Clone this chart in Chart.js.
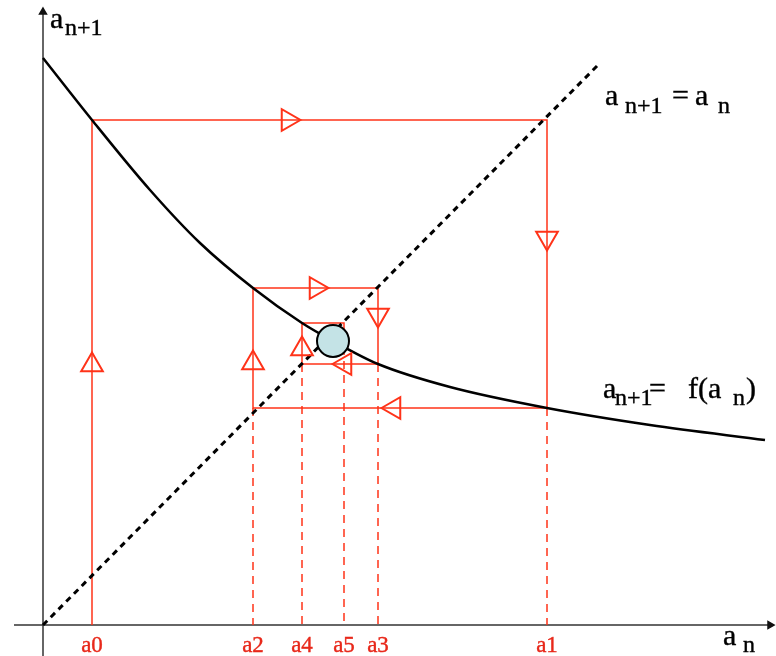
<!DOCTYPE html>
<html>
<head>
<meta charset="utf-8">
<script src="https://cdn.jsdelivr.net/npm/chart.js@4.4.1/dist/chart.umd.min.js"></script>
<style>
	body { margin: 0; background: #fff; }
</style>
</head>
<body>
<canvas id="cobwebChart" width="776" height="656"></canvas>
<script>
// iterates a0..a5 and the values f(a_n) they are sent to
const iterNames = ["a0", "a1", "a2", "a3", "a4", "a5"]
const iterValues = [0.49, 5.04, 2.10, 3.35, 2.59, 3.01]
const mappedValues = [5.05, 2.17, 3.37, 2.61, 3.02, 2.78]

// a_{n+1} = f(a_n)
const curveX = [0, 0.49, 1.07, 1.57, 2.10, 2.59, 2.90, 3.35, 4.07, 5.04, 6.07, 7.22]
const curveY = [5.67, 5.05, 4.35, 3.82, 3.37, 3.02, 2.84, 2.61, 2.38, 2.17, 2.00, 1.85]

// a_{n+1} = a_n
const diagX = [0, 5.57]
const diagY = [0, 5.62]

// fixed point where both lines meet
const fixedX = [2.90]
const fixedY = [2.84]

// arrow heads along the cobweb (heading in degrees, 0 = up)
const markerX = [0.49, 2.45, 5.04, 3.51, 2.10, 2.73, 3.35, 3.02, 2.59]
const markerY = [2.60, 5.05, 3.87, 2.17, 2.62, 3.37, 3.10, 2.61, 2.76]
const markerAngle = [0, 90, 180, 270, 0, 90, 180, 270, 0]

const red = "#ff3319"
const textRed = "#e8281a"
const serif = '"Liberation Serif", "DejaVu Serif", serif'

const zip = (xs, ys) => xs.map((x, i) => ({ x: x, y: ys[i] }))

// staircase: up from a0, then across to the diagonal and back to the curve
const cobweb = [{ x: iterValues[0], y: 0 }]
for (let i = 0; i < iterValues.length; i++) {
	cobweb.push({ x: iterValues[i], y: mappedValues[i] })
	if (i + 1 < iterValues.length) {
		cobweb.push({ x: iterValues[i + 1], y: mappedValues[i] })
	}
}

// dashed drop lines from each later iterate down to the axis
const drops = []
for (let i = 1; i < iterValues.length; i++) {
	const low = Math.min(mappedValues[i - 1], mappedValues[i])
	drops.push({ x: iterValues[i], y: low })
	drops.push({ x: iterValues[i], y: 0 })
	drops.push({ x: iterValues[i], y: null })
}

// text drawn in data coordinates: [x, y, text, size]
const captions = [
	[[0.07, 5.97, "a", 30], [0.22, 5.90, "n+1", 24]],
	[[6.80, -0.20, "a", 30], [7.00, -0.27, "n", 24]],
	[[5.62, 5.20, "a", 30], [5.82, 5.12, "n+1", 24], [6.29, 5.20, "=", 30], [6.52, 5.20, "a", 30], [6.75, 5.12, "n", 24]],
	[[5.60, 2.27, "a", 30], [5.72, 2.20, "n+1", 24], [6.06, 2.27, "=", 30], [6.45, 2.27, "f(a", 30], [6.90, 2.20, "n", 24], [7.03, 2.27, ")", 30]],
]

const drawText = (ctx, text, x, y) => {
	ctx.fillText(text, x, y)
	ctx.strokeText(text, x, y)
}

const textPlugin = {
	id: "cobwebText",
	afterDatasetsDraw(chart) {
		const ctx = chart.ctx
		const xs = chart.scales.x
		const ys = chart.scales.y
		ctx.save()
		ctx.textBaseline = "alphabetic"
		ctx.lineWidth = 0.4

		// iterate names under the horizontal axis
		ctx.fillStyle = textRed
		ctx.strokeStyle = textRed
		ctx.font = "23px " + serif
		ctx.textAlign = "center"
		iterValues.forEach((v, i) => {
			drawText(ctx, iterNames[i], xs.getPixelForValue(v), ys.getPixelForValue(-0.27))
		})

		ctx.fillStyle = "#000"
		ctx.strokeStyle = "#000"
		ctx.textAlign = "left"
		captions.forEach((runs) => {
			runs.forEach(([x, y, text, size]) => {
				ctx.font = size + "px " + serif
				drawText(ctx, text, xs.getPixelForValue(x), ys.getPixelForValue(y))
			})
		})
		ctx.restore()
	},
}

const ctx = document.getElementById("cobwebChart").getContext("2d")
new Chart(ctx, {
	type: "scatter",
	data: {
		datasets: [
			{
				// fixed point
				data: zip(fixedX, fixedY),
				pointRadius: 16,
				pointBackgroundColor: "#c4e3e6",
				pointBorderColor: "#000",
				pointBorderWidth: 2,
			},
			{
				// arrow heads
				data: zip(markerX, markerY),
				pointStyle: "triangle",
				pointRadius: 12.5,
				rotation: markerAngle,
				pointBackgroundColor: "rgba(0,0,0,0)",
				pointBorderColor: red,
				pointBorderWidth: 2,
			},
			{
				// f(a_n)
				data: zip(curveX, curveY),
				showLine: true,
				borderColor: "#000",
				borderWidth: 2.5,
				tension: 0.4,
				cubicInterpolationMode: "monotone",
				pointRadius: 0,
			},
			{
				// a_{n+1} = a_n
				data: zip(diagX, diagY),
				showLine: true,
				borderColor: "#000",
				borderWidth: 3,
				borderDash: [6, 5],
				pointRadius: 0,
			},
			{
				data: cobweb,
				showLine: true,
				borderColor: red,
				borderWidth: 1.5,
				pointRadius: 0,
			},
			{
				data: drops,
				showLine: true,
				spanGaps: false,
				borderColor: red,
				borderWidth: 1.5,
				borderDash: [8, 6],
				pointRadius: 0,
			},
			{
				// horizontal axis with arrow
				data: [{ x: -0.29, y: 0 }, { x: 7.27, y: 0 }],
				showLine: true,
				borderColor: "#333",
				borderWidth: 1.5,
				pointRadius: [0, 4],
				pointStyle: "triangle",
				rotation: 90,
				pointBackgroundColor: "#111",
				pointBorderColor: "#111",
			},
			{
				// vertical axis with arrow
				data: [{ x: 0, y: -0.31 }, { x: 0, y: 6.13 }],
				showLine: true,
				borderColor: "#333",
				borderWidth: 1.5,
				pointRadius: [0, 4],
				pointStyle: "triangle",
				rotation: 0,
				pointBackgroundColor: "#111",
				pointBorderColor: "#111",
			},
		],
	},
	options: {
		responsive: false,
		animation: false,
		layout: { padding: 0, autoPadding: false },
		plugins: {
			legend: { display: false },
			tooltip: { enabled: false },
		},
		scales: {
			x: { type: "linear", min: -0.43, max: 7.33, display: false },
			y: { type: "linear", min: -0.31, max: 6.25, display: false },
		},
	},
	plugins: [textPlugin],
})
</script>
</body>
</html>
